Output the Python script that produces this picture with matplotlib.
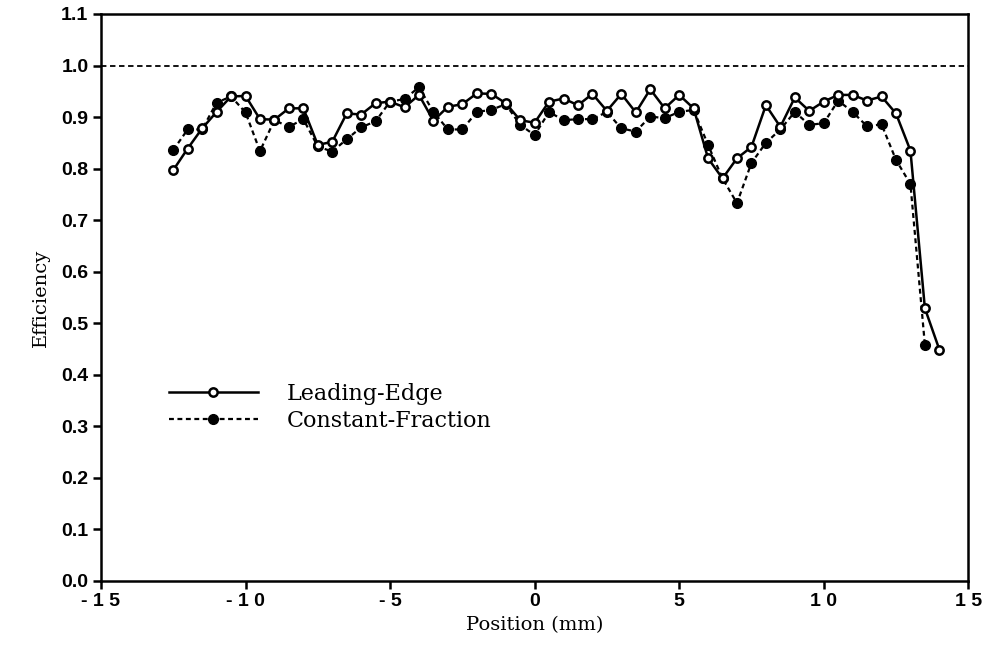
import matplotlib
matplotlib.use("Agg")
import matplotlib.pyplot as plt

position = [-12.5, -12, -11.5, -11, -10.5, -10, -9.5, -9, -8.5, -8, -7.5, -7, -6.5, -6,
            -5.5, -5, -4.5, -4, -3.5, -3, -2.5, -2, -1.5, -1, -0.5, 0, 0.5, 1, 1.5, 2,
            2.5, 3, 3.5, 4, 4.5, 5, 5.5, 6, 6.5, 7, 7.5, 8, 8.5, 9, 9.5, 10, 10.5, 11,
            11.5, 12, 12.5, 13, 13.5, 14]
leading_edge = [0.797, 0.839, 0.878, 0.910, 0.940, 0.941, 0.896, 0.895, 0.917, 0.917,
                0.846, 0.852, 0.907, 0.905, 0.927, 0.930, 0.919, 0.943, 0.893, 0.920,
                0.925, 0.946, 0.945, 0.927, 0.894, 0.889, 0.930, 0.936, 0.923, 0.945,
                0.912, 0.945, 0.909, 0.954, 0.917, 0.943, 0.917, 0.820, 0.781, 0.820,
                0.842, 0.923, 0.881, 0.938, 0.912, 0.930, 0.943, 0.943, 0.932, 0.940,
                0.907, 0.835, 0.529, 0.449]
constant_fraction = [0.836, 0.876, 0.876, 0.928, 0.940, 0.909, 0.834, 0.894, 0.881, 0.896,
                     0.843, 0.833, 0.857, 0.880, 0.892, 0.930, 0.935, 0.958, 0.910, 0.876,
                     0.876, 0.910, 0.914, 0.925, 0.885, 0.865, 0.910, 0.894, 0.896, 0.896,
                     0.910, 0.878, 0.872, 0.901, 0.898, 0.910, 0.914, 0.846, 0.781, 0.733,
                     0.811, 0.850, 0.876, 0.910, 0.885, 0.888, 0.932, 0.910, 0.882, 0.886,
                     0.817, 0.770, 0.458]
cf_position = position[:len(constant_fraction)]

xticks = [-15, -10, -5, 0, 5, 10, 15]
xticklabels = ["- 1 5", "- 1 0", "- 5", "0", "5", "1 0", "1 5"]
yticks = [0.0, 0.1, 0.2, 0.3, 0.4, 0.5, 0.6, 0.7, 0.8, 0.9, 1.0, 1.1]
yticklabels = ["0.0", "0.1", "0.2", "0.3", "0.4", "0.5", "0.6", "0.7", "0.8", "0.9", "1.0", "1.1"]

fig = plt.figure(figsize=(9.83, 6.57), dpi=100)
ax = fig.add_axes([0.1027, 0.1157, 0.8823, 0.863])

ax.axhline(1.0, color="black", lw=1.3, ls=(0, (3, 2)), zorder=1)

ax.plot(cf_position, constant_fraction, color="black", lw=1.6, ls=(0, (2.2, 1.6)),
        marker="o", markersize=7, markerfacecolor="black", markeredgecolor="black",
        label="Constant-Fraction", zorder=2)
ax.plot(position, leading_edge, color="black", lw=1.8, ls="-",
        marker="o", markersize=6, markerfacecolor="white", markeredgecolor="black",
        markeredgewidth=1.8, label="Leading-Edge", zorder=3)

ax.set_xlim(-15, 15)
ax.set_ylim(0.0, 1.1)
ax.set_xticks(xticks)
ax.set_xticklabels(xticklabels, fontfamily="Liberation Sans", fontsize=14, fontweight="semibold")
ax.set_yticks(yticks)
ax.set_yticklabels(yticklabels, fontfamily="Liberation Sans", fontsize=14, fontweight="semibold")
ax.tick_params(direction="out", length=6, width=1.8, pad=3)
for s in ax.spines.values():
    s.set_linewidth(1.8)

ax.set_xlabel("Position (mm)", fontfamily="DejaVu Serif", fontsize=14, labelpad=4)
ax.set_ylabel("Efficiency", fontfamily="DejaVu Serif", fontsize=14, labelpad=8)

handles, labels = ax.get_legend_handles_labels()
leg = ax.legend(handles[::-1], labels[::-1], loc="upper left",
                bbox_to_anchor=(0.055, 0.385), frameon=False,
                prop={"family": "DejaVu Serif", "size": 16},
                handlelength=4.0, numpoints=1, labelspacing=0.25, handletextpad=1.3)

fig.savefig("out.png", dpi=100)
